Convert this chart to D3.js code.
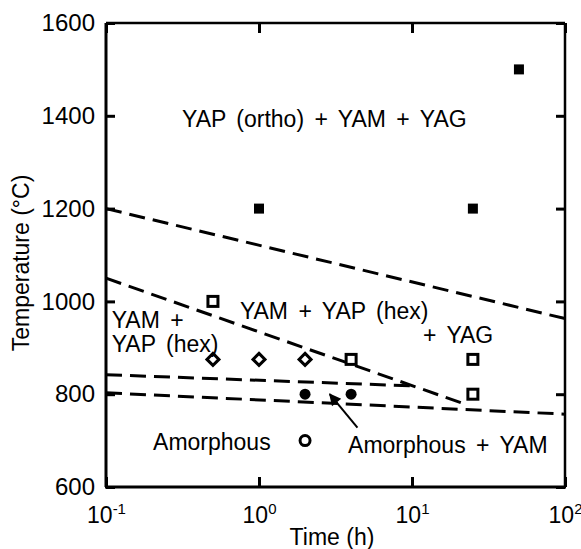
<!DOCTYPE html>
<html>
<head>
<meta charset="utf-8">
<script src="https://cdn.jsdelivr.net/npm/d3@7"></script>
<style>
  body { margin: 0; background: #fff; }
  text { font-family: "Liberation Sans", Arial, sans-serif; fill: #000; }
</style>
</head>
<body>
<div id="chart"></div>
<script>
// Chart data (time in h, temperature in degC)
const filledSquares = [{ t: 1, T: 1200 }, { t: 25, T: 1200 }, { t: 50, T: 1500 }];
const openSquares = [{ t: 0.5, T: 1000 }, { t: 4, T: 875 }, { t: 25, T: 875 }, { t: 25, T: 800 }];
const diamonds = [{ t: 0.5, T: 875 }, { t: 1, T: 875 }, { t: 2, T: 875 }];
const filledCircles = [{ t: 2, T: 800 }, { t: 4, T: 800 }];
const openCircles = [{ t: 2, T: 700 }];

// phase boundaries (dashed)
const boundaryTop = [{ t: 0.1, T: 1200 }, { t: 100, T: 963 }];
const boundaryMid = [{ t: 0.1, T: 1050 }, { t: 22, T: 779 }];
const boundaryLow = [{ t: 0.1, T: 842 }, { t: 10, T: 818 }];
const boundaryBottom = [{ t: 0.1, T: 803 }, { t: 100, T: 757 }];

const arrowTail = { t: 4.4, T: 728 };
const arrowHead = { t: 2.9, T: 800 };

const regionLabels = [
  { text: 'YAP (ortho) + YAM + YAG', t: 0.314, T: 1375 },
  { text: 'YAM + YAP (hex)', t: 0.75, T: 963 },
  { text: '+ YAG', t: 11.8, T: 910 },
  { text: 'YAM +', t: 0.109, T: 942 },
  { text: 'YAP (hex)', t: 0.109, T: 890 },
  { text: 'Amorphous', t: 0.203, T: 680 },
  { text: 'Amorphous + YAM', t: 3.82, T: 673 }
];

const xTicks = [0.1, 1, 10, 100];
const xTickExp = ['-1', '0', '1', '2'];
const yTicks = [600, 800, 1000, 1200, 1400, 1600];

const WIDTH = 581, HEIGHT = 549;
const MARGIN = { left: 106, top: 23, right: 16, bottom: 62 };
const W = WIDTH - MARGIN.left - MARGIN.right;
const H = HEIGHT - MARGIN.top - MARGIN.bottom;

const svg = d3.select('#chart').append('svg')
    .attr('width', WIDTH)
    .attr('height', HEIGHT);

const g = svg.append('g')
    .attr('transform', `translate(${MARGIN.left}, ${MARGIN.top})`);

const x = d3.scaleLog().domain([0.1, 100]).range([0, W]);
const y = d3.scaleLinear().domain([600, 1600]).range([H, 0]);

// Axes with inward ticks
const xAxis = g.append('g')
    .attr('transform', `translate(0, ${H})`)
    .call(d3.axisBottom(x).tickValues(xTicks).tickSizeInner(-10).tickSizeOuter(0).tickPadding(20));
xAxis.selectAll('text')
    .style('font-size', '23px')
    .text('')
    .each(function (d, i) {
      const t = d3.select(this);
      t.append('tspan').text('10');
      t.append('tspan').attr('dy', -9).style('font-size', '15px').text(xTickExp[i]);
    });

g.append('g')
    .call(d3.axisTop(x).tickValues(xTicks).tickSizeInner(-10).tickSizeOuter(0).tickFormat(''));

g.append('g')
    .call(d3.axisLeft(y).tickValues(yTicks).tickSizeInner(-9).tickSizeOuter(0).tickPadding(11).tickFormat(d3.format('d')))
    .selectAll('text')
    .style('font-size', '24px');

g.append('g')
    .attr('transform', `translate(${W}, 0)`)
    .call(d3.axisRight(y).tickValues(yTicks).tickSizeInner(-9).tickSizeOuter(0).tickFormat(''));

g.selectAll('.tick line').attr('stroke', '#000').attr('stroke-width', 3);
g.selectAll('.domain').remove();

// frame
g.append('line').attr('x1', 0).attr('x2', 0).attr('y1', 0).attr('y2', H)
    .attr('stroke', '#000').attr('stroke-width', 3);
g.append('line').attr('x1', -1).attr('x2', W + 1).attr('y1', H).attr('y2', H)
    .attr('stroke', '#000').attr('stroke-width', 3);
g.append('line').attr('x1', 0).attr('x2', W).attr('y1', 0).attr('y2', 0)
    .attr('stroke', '#000').attr('stroke-width', 2.5);
g.append('line').attr('x1', W).attr('x2', W).attr('y1', 0).attr('y2', H)
    .attr('stroke', '#000').attr('stroke-width', 2.5);

// Axis titles
svg.append('text')
    .attr('transform', 'translate(29, 263) rotate(-90)')
    .attr('text-anchor', 'middle')
    .style('font-size', '23px')
    .text('Temperature (°C)');

svg.append('text')
    .attr('x', 332)
    .attr('y', 545)
    .attr('text-anchor', 'middle')
    .style('font-size', '23px')
    .text('Time (h)');

// Dashed boundaries
const line = d3.line().x(d => x(d.t)).y(d => y(d.T));
[boundaryTop, boundaryMid, boundaryLow, boundaryBottom].forEach(b => {
  g.append('path')
      .datum(b)
      .attr('d', line)
      .attr('fill', 'none')
      .attr('stroke', '#000')
      .attr('stroke-width', 3)
      .attr('stroke-dasharray', '16,8');
});

// Markers
g.selectAll('.fsq').data(filledSquares).enter().append('rect')
    .attr('x', d => x(d.t) - 5).attr('y', d => y(d.T) - 5)
    .attr('width', 10).attr('height', 10)
    .attr('fill', '#000');

g.selectAll('.osq').data(openSquares).enter().append('rect')
    .attr('x', d => x(d.t) - 5).attr('y', d => y(d.T) - 5)
    .attr('width', 10).attr('height', 10)
    .attr('fill', '#fff').attr('stroke', '#000').attr('stroke-width', 3);

g.selectAll('.dia').data(diamonds).enter().append('path')
    .attr('d', d => {
      const cx = x(d.t), cy = y(d.T), r = 6;
      return `M${cx},${cy - r}L${cx + r},${cy}L${cx},${cy + r}L${cx - r},${cy}Z`;
    })
    .attr('fill', '#fff').attr('stroke', '#000').attr('stroke-width', 3);

g.selectAll('.fci').data(filledCircles).enter().append('circle')
    .attr('cx', d => x(d.t)).attr('cy', d => y(d.T)).attr('r', 5.5)
    .attr('fill', '#000');

g.selectAll('.oci').data(openCircles).enter().append('circle')
    .attr('cx', d => x(d.t)).attr('cy', d => y(d.T)).attr('r', 5)
    .attr('fill', '#fff').attr('stroke', '#000').attr('stroke-width', 3);

// Arrow pointing to the amorphous + YAM band
svg.append('defs').append('marker')
    .attr('id', 'arrowhead')
    .attr('viewBox', '0 0 10 10')
    .attr('refX', 9).attr('refY', 5)
    .attr('markerWidth', 7).attr('markerHeight', 6)
    .attr('markerUnits', 'strokeWidth')
    .attr('orient', 'auto')
    .append('path').attr('d', 'M0,0L10,5L0,10Z').attr('fill', '#000');

g.append('line')
    .attr('x1', x(arrowTail.t)).attr('y1', y(arrowTail.T))
    .attr('x2', x(arrowHead.t)).attr('y2', y(arrowHead.T))
    .attr('stroke', '#000').attr('stroke-width', 2)
    .attr('marker-end', 'url(#arrowhead)');

// Region labels
g.selectAll('.region').data(regionLabels).enter().append('text')
    .attr('x', d => x(d.t))
    .attr('y', d => y(d.T))
    .style('font-size', '23px')
    .style('word-spacing', '4px')
    .text(d => d.text);
</script>
</body>
</html>
